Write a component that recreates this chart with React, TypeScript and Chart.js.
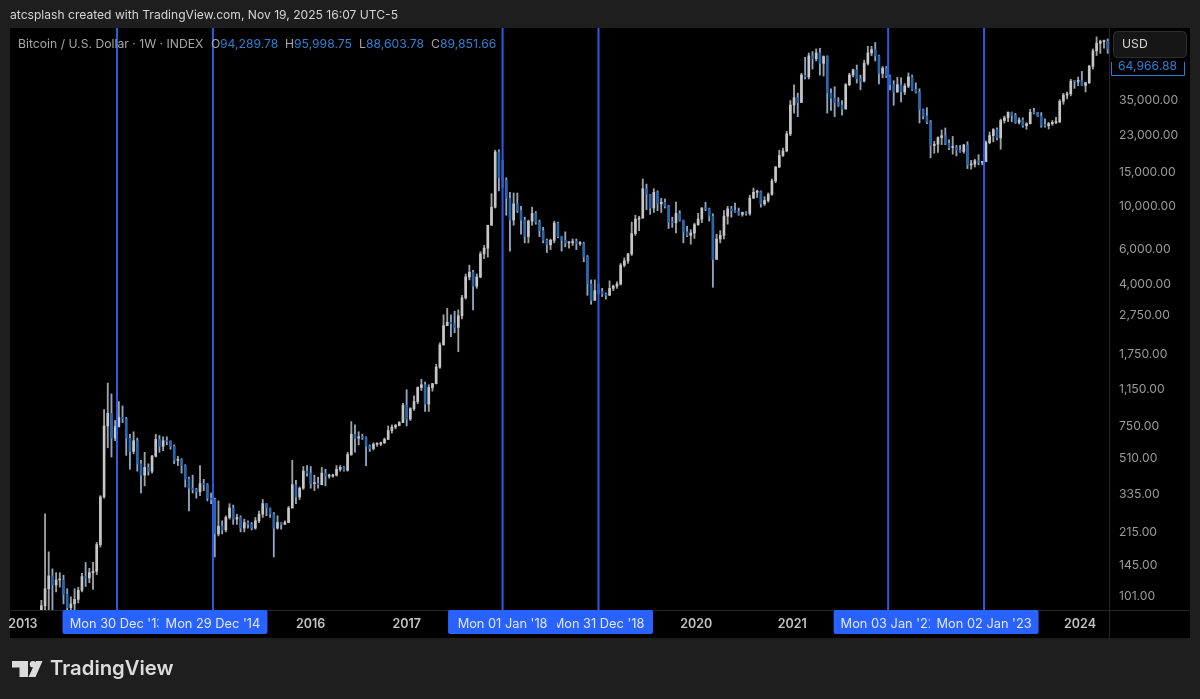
import { useEffect, useRef } from 'react';
import { Chart, registerables } from 'chart.js';

Chart.register(...registerables);

const firstCandle = Date.UTC(2013, 2, 18);
const candleStep = 14 * 24 * 3600 * 1000;

const opens = [
  47, 90, 110, 128, 115, 122, 122, 103, 88, 92, 97, 108, 127, 125, 133, 135, 185, 325, 750, 870, 650,
  745, 830, 815, 650, 555, 630, 480, 420, 460, 440, 525, 640, 590, 630, 625, 590, 500, 505, 470, 400, 360, 355, 345, 380, 375, 320,
  315, 210, 230, 220, 255, 285, 250, 255, 225, 240, 235, 225, 245, 265, 300, 285, 265, 225, 240, 235, 240, 285, 375, 325, 360, 440,
  430, 380, 380, 375, 430, 415, 415, 420, 450, 460, 445, 535, 680, 650, 660, 655, 590, 575, 605, 605, 615, 640, 710, 740, 755, 780,
  960, 815, 920, 1000, 1180, 1220, 970, 1180, 1235, 1500, 1950, 2450, 2550, 2500, 2400, 2750, 3400, 4350, 4600, 3900, 4350, 5700, 6100, 8000, 9900, 19000,
  14000, 13600, 11000, 8500, 10300, 9500, 8500, 7000, 8400, 9200, 8300, 7500, 6700, 6350, 6700, 8200, 7000, 6700, 6500, 6500, 6600, 6450, 6450, 5500, 4000, 3300,
  3700, 3650, 3550, 3500, 3800, 3900, 4000, 5000, 5250, 5700, 7250, 8600, 8700, 12300, 11500, 9800, 11800, 10300, 10500, 10000, 8300, 8250, 9200, 8500, 7400, 7100,
  7300, 8050, 8600, 9800, 9700, 8900, 5350, 6800, 7100, 8900, 9700, 9500, 9400, 9100, 9300, 9200, 11000, 11800, 11900, 10300, 10700, 11500, 13500, 15900, 18200, 19200,
  23500, 33000, 36000, 34000, 47000, 46000, 59000, 57000, 61000, 54000, 58500, 38000, 35800, 34000, 33000, 31500, 42000, 47000, 50000, 45000, 43800, 54000, 61000, 63500, 59000, 48000, 51000,
  46500, 42000, 38500, 42000, 38500, 41300, 46000, 39700, 38500, 31300, 29000, 27000, 20500, 20800, 22500, 23000, 21000, 20000, 20000, 19400, 19100, 20600, 16300, 16450, 17100, 16800,
  16950, 21200, 23000, 24700, 22400, 27500, 28400, 30300, 29200, 26900, 27700, 25900, 26500, 30300, 30100, 29000, 26100, 25900, 26500, 26900, 27100, 34500, 37100, 37700, 43800, 43600,
  44000, 41600, 43000, 52100, 62500, 68500, 69800, 70000,
];
const highs = [
  96, 266, 170, 139, 133, 133, 129, 110, 100, 110, 112, 132, 150, 140, 150, 190, 330, 910, 1243, 1095, 800,
  1000, 950, 830, 680, 700, 650, 500, 550, 480, 530, 680, 670, 660, 660, 630, 600, 525, 510, 475, 410, 420, 360, 470, 400, 380, 340,
  320, 310, 245, 260, 300, 295, 265, 260, 250, 245, 240, 255, 275, 315, 300, 285, 270, 260, 240, 245, 290, 500, 395, 365, 465, 470,
  465, 420, 410, 460, 450, 425, 425, 470, 470, 465, 550, 790, 760, 700, 680, 660, 600, 615, 615, 620, 650, 750, 760, 765, 790, 980,
  1150, 930, 1070, 1190, 1300, 1260, 1220, 1240, 1550, 2000, 2780, 3000, 2780, 2900, 2950, 3500, 4500, 5000, 4700, 4500, 5850, 6300, 8000, 11600, 19400, 19500,
  17200, 14000, 11800, 11700, 11700, 10000, 8800, 8500, 9900, 9400, 8500, 7800, 6800, 6800, 8400, 8300, 7000, 7400, 6600, 6800, 6800, 6600, 6550, 5600, 4200, 4200,
  4000, 3800, 3600, 4150, 3950, 4100, 5100, 5450, 5750, 8300, 9000, 8900, 13800, 13000, 11500, 12300, 12000, 11000, 10900, 10100, 8800, 10500, 9500, 8500, 7900, 7600,
  8200, 9200, 9850, 10500, 9800, 9150, 7200, 7500, 9500, 10000, 10000, 10400, 9800, 9350, 9400, 11400, 12400, 12100, 12000, 11200, 11700, 13800, 16000, 19400, 19900, 24200,
  34800, 41900, 38000, 48000, 58000, 61000, 62000, 64000, 64500, 59000, 59000, 40000, 41000, 36000, 34800, 42500, 48000, 50400, 52900, 47000, 56000, 66000, 66000, 69000, 59500, 52000, 52000,
  47000, 44000, 45800, 45500, 42500, 48200, 47000, 42900, 40000, 31500, 32000, 27500, 21500, 22700, 24600, 25200, 21900, 22800, 20500, 20500, 20800, 21400, 17200, 17400, 18400, 17000,
  21600, 24000, 25000, 25200, 28000, 29000, 30500, 30400, 29900, 28400, 28400, 26800, 31400, 31800, 30300, 30200, 28100, 26900, 27500, 28600, 35200, 37900, 38500, 44700, 44000, 45900,
  49100, 43000, 52800, 64000, 73800, 71000, 71000, 72000,
];
const lows = [
  46, 60, 78, 79, 106, 112, 92, 80, 65, 85, 93, 106, 113, 118, 109, 130, 180, 320, 580, 520, 630,
  740, 780, 530, 450, 540, 440, 340, 370, 420, 430, 520, 550, 560, 600, 570, 480, 470, 430, 365, 275, 340, 320, 330, 350, 310, 300,
  160, 205, 210, 215, 250, 235, 235, 215, 215, 225, 220, 222, 240, 255, 260, 255, 160, 222, 222, 235, 240, 285, 300, 315, 355, 415,
  360, 350, 360, 375, 370, 405, 410, 415, 440, 440, 440, 530, 550, 600, 640, 470, 555, 565, 590, 595, 610, 640, 690, 725, 750, 780,
  750, 800, 900, 975, 1140, 890, 890, 1130, 1230, 1480, 1950, 2450, 2150, 2250, 1800, 2650, 3350, 4200, 2950, 3800, 4300, 5400, 5500, 8000, 9800, 12000,
  12500, 9000, 5900, 8000, 9300, 7200, 6500, 6500, 8000, 8100, 7000, 6500, 5800, 6000, 6500, 6900, 5900, 6200, 6100, 6300, 6000, 6300, 5200, 3500, 3150, 3300,
  3550, 3450, 3350, 3500, 3700, 3800, 3950, 4900, 5100, 5600, 7100, 7500, 8700, 9600, 9100, 9300, 9500, 9300, 9800, 7700, 7800, 7300, 8400, 6500, 7000, 6400,
  6850, 8000, 8250, 9500, 8400, 3850, 5350, 6500, 6800, 8100, 8800, 9300, 9000, 8900, 9000, 9000, 11000, 11100, 9900, 10100, 10500, 11400, 13200, 15800, 18000, 19000,
  23000, 30000, 28800, 34000, 44900, 44900, 50500, 55500, 47000, 46500, 30000, 31000, 28800, 32500, 29300, 31500, 41500, 46000, 42800, 39500, 43300, 53000, 59000, 55500, 42300, 45500, 45700,
  39500, 32900, 38400, 34300, 37300, 40500, 39200, 38000, 26700, 28000, 26500, 17700, 18700, 18900, 20700, 20700, 19500, 18500, 18100, 18900, 18700, 15600, 15500, 15900, 16300, 16300,
  16900, 20900, 21400, 21900, 19600, 26700, 27100, 27100, 26600, 26400, 25400, 24800, 26400, 29700, 28900, 25400, 25400, 24900, 26000, 26500, 26800, 33300, 35500, 36800, 40200, 41500,
  41500, 38500, 42500, 50500, 59200, 60700, 64500, 60700,
];
const closes = [
  90, 110, 128, 115, 122, 122, 103, 88, 92, 97, 108, 127, 125, 133, 135, 185, 325, 750, 870, 650, 745,
  830, 815, 650, 555, 630, 480, 420, 460, 440, 525, 640, 590, 630, 625, 590, 500, 505, 470, 400, 360, 355, 345, 380, 375, 320, 315,
  210, 230, 220, 255, 285, 250, 255, 225, 240, 235, 225, 245, 265, 300, 285, 265, 225, 240, 235, 240, 285, 375, 325, 360, 440, 430,
  380, 380, 375, 430, 415, 415, 420, 450, 460, 445, 535, 680, 650, 660, 655, 590, 575, 605, 605, 615, 640, 710, 740, 755, 780, 960,
  815, 920, 1000, 1180, 1220, 970, 1180, 1235, 1500, 1950, 2450, 2550, 2500, 2400, 2750, 3400, 4350, 4600, 3900, 4350, 5700, 6100, 8000, 9900, 19000, 14000,
  13600, 11000, 8500, 10300, 9500, 8500, 7000, 8400, 9200, 8300, 7500, 6700, 6350, 6700, 8200, 7000, 6700, 6500, 6500, 6600, 6450, 6450, 5500, 4000, 3300, 3700,
  3650, 3550, 3500, 3800, 3900, 4000, 5000, 5250, 5700, 7250, 8600, 8700, 12300, 11500, 9800, 11800, 10300, 10500, 10000, 8300, 8250, 9200, 8500, 7400, 7100, 7300,
  8050, 8600, 9800, 9700, 8900, 5350, 6800, 7100, 8900, 9700, 9500, 9400, 9100, 9300, 9200, 11000, 11800, 11900, 10300, 10700, 11500, 13500, 15900, 18200, 19200, 23500,
  33000, 36000, 34000, 47000, 46000, 59000, 57000, 61000, 54000, 58500, 38000, 35800, 34000, 33000, 31500, 42000, 47000, 50000, 45000, 43800, 54000, 61000, 63500, 59000, 48000, 51000, 46500,
  42000, 38500, 42000, 38500, 41300, 46000, 39700, 38500, 31300, 29000, 27000, 20500, 20800, 22500, 23000, 21000, 20000, 20000, 19400, 19100, 20600, 16300, 16450, 17100, 16800, 16950,
  21200, 23000, 24700, 22400, 27500, 28400, 30300, 29200, 26900, 27700, 25900, 26500, 30300, 30100, 29000, 26100, 25900, 26500, 26900, 27100, 34500, 37100, 37700, 43800, 43600, 44000,
  41600, 43000, 52100, 62500, 68500, 69800, 70000, 64000,
];

const priceTicks = [35000, 23000, 15000, 10000, 6000, 4000, 2750, 1750, 1150, 750, 510, 335, 215, 145, 101];
const yearTicks = [
  [2013, Date.UTC(2013, 0, 7)],
  [2016, Date.UTC(2016, 0, 4)],
  [2017, Date.UTC(2017, 0, 2)],
  [2020, Date.UTC(2020, 0, 6)],
  [2021, Date.UTC(2021, 0, 4)],
  [2024, Date.UTC(2024, 0, 1)],
];

const cycleDates = [
  Date.UTC(2013, 11, 30),
  Date.UTC(2014, 11, 29),
  Date.UTC(2018, 0, 1),
  Date.UTC(2018, 11, 31),
  Date.UTC(2022, 0, 3),
  Date.UTC(2023, 0, 2),
];
const cycleLabels = [
  "Mon 30 Dec '13",
  "Mon 29 Dec '14",
  "Mon 01 Jan '18",
  "Mon 31 Dec '18",
  "Mon 03 Jan '22",
  "Mon 02 Jan '23",
];
// the later pill in this list is painted over the earlier one
const pillOrder = [0, 1, 3, 2, 4, 5];

const FONT = 'Inter, "Liberation Sans", sans-serif';
const upBody = '#c6c6c6';
const upWick = '#a0a0a0';
const downBody = '#2a66ab';
const downWick = '#8ea6c2';

const candleTime = (i: number) => firstCandle + i * candleStep;
const isUp = (i: number) => closes[i] >= opens[i];

const wicks = highs.map((high, i) => ({ x: candleTime(i), y: [lows[i], high] }));
const bodies = closes.map((close, i) => ({
  x: candleTime(i),
  y: [Math.min(opens[i], close), Math.max(opens[i], close)],
}));

const formatPrice = (v: number) =>
  v.toLocaleString('en-US', { minimumFractionDigits: 2, maximumFractionDigits: 2 });

function text(ctx: CanvasRenderingContext2D, s: string, x: number, y: number, color: string, font: string, align: CanvasTextAlign = 'left') {
  ctx.fillStyle = color;
  ctx.font = font;
  ctx.textAlign = align;
  ctx.textBaseline = 'middle';
  ctx.fillText(s, x, y);
}

const framePlugin = {
  id: 'frame',
  beforeDraw(chart: Chart) {
    const { ctx } = chart;
    ctx.save();
    ctx.fillStyle = '#1e1e1e';
    ctx.fillRect(0, 0, 1200, 699);
    ctx.fillStyle = '#000000';
    ctx.fillRect(10, 28, 1180, 610);
    ctx.fillStyle = '#262626';
    ctx.fillRect(10, 610, 1180, 1);
    ctx.fillRect(1109, 28, 1, 610);

    text(ctx, 'atcsplash created with TradingView.com, Nov 19, 2025 16:07 UTC-5', 10, 15, '#d4d4d4', `12.1px ${FONT}`);

    // logo
    ctx.fillStyle = '#dcdcdc';
    ctx.fillRect(12, 661, 16, 6.5);
    ctx.fillRect(19.5, 661, 8.5, 16);
    ctx.beginPath();
    ctx.arc(33, 664.2, 3.2, 0, Math.PI * 2);
    ctx.fill();
    ctx.beginPath();
    ctx.moveTo(36, 661);
    ctx.lineTo(42.5, 661);
    ctx.lineTo(35.5, 677);
    ctx.lineTo(28.5, 677);
    ctx.closePath();
    ctx.fill();
    text(ctx, 'TradingView', 50, 669, '#dcdcdc', `600 20.3px ${FONT}`);
    ctx.restore();
  },
  afterDatasetsDraw(chart: Chart) {
    const { ctx, chartArea } = chart;
    const x = chart.scales.x;
    ctx.save();
    ctx.strokeStyle = '#2a5ce0';
    ctx.lineWidth = 2;
    cycleDates.forEach((d) => {
      const px = x.getPixelForValue(d);
      ctx.beginPath();
      ctx.moveTo(px, chartArea.top);
      ctx.lineTo(px, chartArea.bottom);
      ctx.stroke();
    });
    ctx.restore();
  },
  afterDraw(chart: Chart) {
    const { ctx } = chart;
    const x = chart.scales.x;
    ctx.save();

    // date pills under the cycle lines
    pillOrder.forEach((i) => {
      const px = x.getPixelForValue(cycleDates[i]);
      ctx.fillStyle = '#2962ff';
      ctx.beginPath();
      ctx.roundRect(px - 54.5, 610, 109, 24, 2);
      ctx.fill();
      text(ctx, cycleLabels[i], px, 624, '#dfe7ff', `12.8px ${FONT}`, 'center');
    });

    // legend line
    const y = 44;
    const grey = '#a6a6a6';
    const blue = '#2f7fd0';
    const f = `12.2px ${FONT}`;
    text(ctx, 'Bitcoin / U.S. Dollar · 1W · INDEX', 18, y, grey, f);
    text(ctx, 'O', 211, y, grey, f);
    text(ctx, '94,289.78', 220, y, blue, f);
    text(ctx, 'H', 285, y, grey, f);
    text(ctx, '95,998.75', 294, y, blue, f);
    text(ctx, 'L', 359, y, grey, f);
    text(ctx, '88,603.78', 366, y, blue, f);
    text(ctx, 'C', 431, y, grey, f);
    text(ctx, '89,851.66', 440, y, blue, f);

    // USD button and price label
    ctx.fillStyle = '#161616';
    ctx.strokeStyle = '#2e2e2e';
    ctx.lineWidth = 1;
    ctx.beginPath();
    ctx.roundRect(1113.5, 31.5, 73, 26, 4);
    ctx.fill();
    ctx.stroke();
    text(ctx, 'USD', 1122, 44, '#d8d8d8', f);
    ctx.strokeStyle = '#2f7fd0';
    ctx.beginPath();
    ctx.moveTo(1111.5, 62);
    ctx.lineTo(1111.5, 75.5);
    ctx.lineTo(1184.5, 75.5);
    ctx.lineTo(1184.5, 62);
    ctx.stroke();
    text(ctx, '64,966.88', 1118, 66, blue, f);
    ctx.restore();
  },
};

export default function App() {
  const canvasRef = useRef<HTMLCanvasElement>(null);

  useEffect(() => {
    const canvas = canvasRef.current;
    if (!canvas) return undefined;

    const chart = new Chart(canvas, {
      type: 'bar',
      data: {
        datasets: [
          {
            label: 'wick',
            data: wicks,
            order: 2,
            grouped: false,
            barThickness: 1.2,
            backgroundColor: wicks.map((_, i) => (isUp(i) ? upWick : downWick)),
          },
          {
            label: 'body',
            data: bodies,
            order: 1,
            grouped: false,
            barThickness: 2,
            minBarLength: 1,
            backgroundColor: bodies.map((_, i) => (isUp(i) ? upBody : downBody)),
          },
        ],
      },
      options: {
        animation: false,
        responsive: false,
        maintainAspectRatio: false,
        layout: { padding: { left: 10, top: 28, right: 10, bottom: 61 } },
        plugins: { legend: { display: false }, tooltip: { enabled: false } },
        scales: {
          x: {
            type: 'linear',
            offset: false,
            min: Date.UTC(2012, 10, 19),
            max: Date.UTC(2024, 3, 20),
            grid: { display: false, drawTicks: false },
            border: { display: false },
            afterFit: (scale) => {
              scale.height = 28;
            },
            afterBuildTicks: (scale) => {
              scale.ticks = yearTicks.map(([, t]) => ({ value: t }));
            },
            ticks: {
              autoSkip: false,
              maxRotation: 0,
              padding: 7,
              color: '#c2c2c2',
              font: { family: FONT, size: 12.5, weight: 600 },
              callback: (value) => {
                const found = yearTicks.find(([, t]) => t === value);
                return found ? String(found[0]) : '';
              },
            },
          },
          y: {
            type: 'logarithmic',
            position: 'right',
            min: 85.6,
            max: 81900,
            grid: { display: false, drawTicks: false },
            border: { display: false },
            afterFit: (scale) => {
              scale.width = 81;
            },
            afterBuildTicks: (scale) => {
              scale.ticks = priceTicks.map((value) => ({ value }));
            },
            ticks: {
              autoSkip: false,
              padding: 10,
              crossAlign: 'near',
              color: '#9a9a9a',
              font: { family: FONT, size: 12.2 },
              callback: (value) => formatPrice(Number(value)),
            },
          },
        },
      },
      plugins: [framePlugin],
    });

    return () => {
      chart.destroy();
    };
  }, []);

  return (
    <div style={{ position: 'fixed', left: 0, top: 0, width: 1200, height: 699 }}>
      <canvas ref={canvasRef} width={1200} height={699} style={{ display: 'block' }} />
    </div>
  );
}
